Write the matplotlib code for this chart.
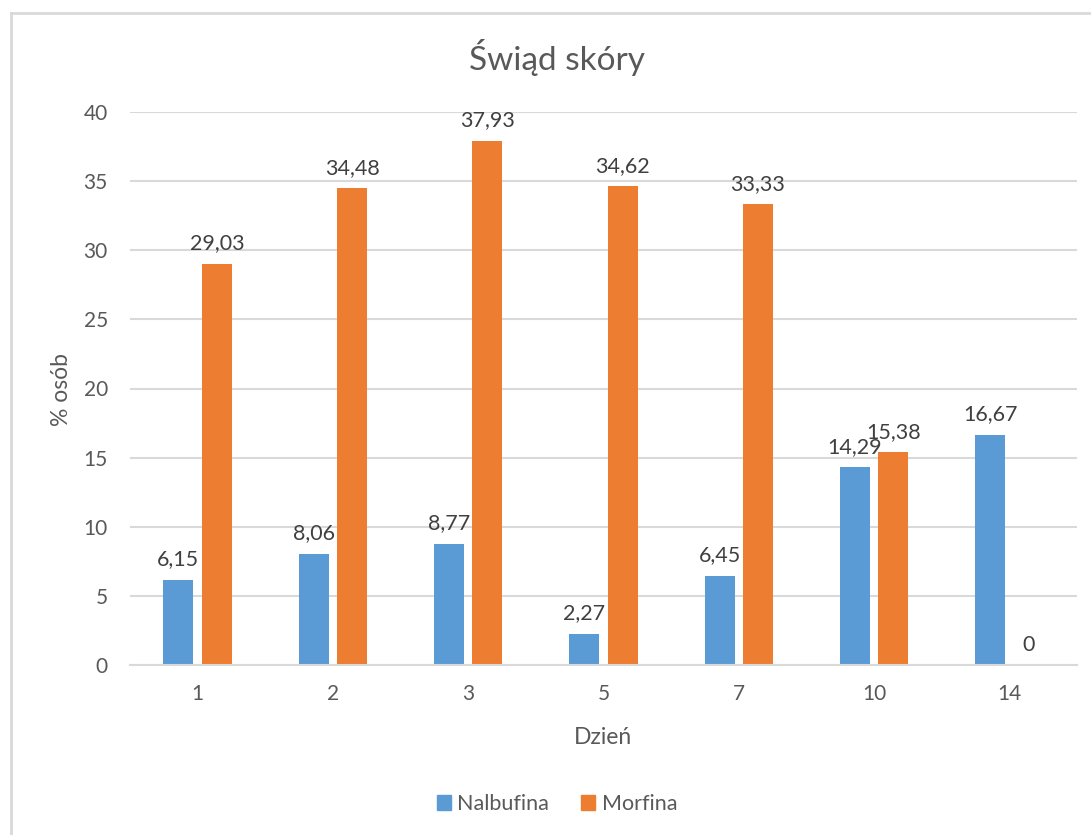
import matplotlib
matplotlib.use("Agg")
import matplotlib.pyplot as plt
from matplotlib.lines import Line2D
from matplotlib.patches import Patch
import numpy as np

days = ["1", "2", "3", "5", "7", "10", "14"]
nalbufina = [6.15, 8.06, 8.77, 2.27, 6.45, 14.29, 16.67]
morfina = [29.03, 34.48, 37.93, 34.62, 33.33, 15.38, 0]
series_names = ["Nalbufina", "Morfina"]
y_ticks = [0, 5, 10, 15, 20, 25, 30, 35, 40]

BLUE = "#5b9bd5"
ORANGE = "#ed7d31"
TEXT = "#595959"
LABEL = "#404040"
GRID = "#d9d9d9"

plt.rcParams["font.family"] = ["Lato", "DejaVu Sans"]

W, H = 1091, 835
fig = plt.figure(figsize=(W / 100, H / 100), dpi=100)
ax = fig.add_axes([130 / W, 1 - 665 / H, (1077 - 130) / W, (665 - 112) / H])

x = np.arange(len(days))
width = 0.222
offset = 0.142
b1 = ax.bar(x - offset, nalbufina, width, color=BLUE, label=series_names[0], zorder=3)
b2 = ax.bar(x + offset, morfina, width, color=ORANGE, label=series_names[1], zorder=3)

def fmt(v):
    s = f"{v:.2f}".rstrip("0").rstrip(".")
    return s.replace(".", ",")

for bars, vals in ((b1, nalbufina), (b2, morfina)):
    for rect, v in zip(bars, vals):
        ax.annotate(fmt(v), (rect.get_x() + rect.get_width() / 2, v),
                    xytext=(0, 7.5), textcoords="offset points",
                    ha="center", va="bottom", fontsize=15.5, color=LABEL, zorder=4)

ax.set_xlim(-0.5, len(days) - 0.5)
ax.set_ylim(0, 40)
ax.set_yticks(y_ticks)
ax.set_xticks(x)
ax.set_xticklabels(days)
ax.tick_params(axis="both", length=0, labelsize=15, labelcolor=TEXT)
ax.tick_params(axis="y", pad=16)
ax.tick_params(axis="x", pad=14)
ax.yaxis.grid(True, color=GRID, linewidth=1.5, zorder=0)
for side in ("left", "right", "top"):
    ax.spines[side].set_visible(False)
ax.spines["bottom"].set_color(GRID)
ax.spines["bottom"].set_linewidth(1.5)
ax.spines["bottom"].set_zorder(5)

fig.text(557 / W, 1 - 58 / H, "Świąd skóry", ha="center", va="center",
         fontsize=24, color=TEXT)
fig.text(603 / W, 1 - 738 / H, "Dzień", ha="center", va="center",
         fontsize=16.5, color=TEXT)
fig.text(61 / W, 1 - 390 / H, "% osób", ha="center", va="center",
         fontsize=16.5, color=TEXT, rotation=90)

handles = [Patch(color=BLUE), Patch(color=ORANGE)]
fig.legend(handles, series_names, loc="center", bbox_to_anchor=(557 / W, 1 - 804 / H),
           ncol=2, frameon=False, fontsize=15.5, labelcolor=TEXT,
           handlelength=0.65, handleheight=0.65, handletextpad=0.3, columnspacing=1.5)

# chart frame (left and top edges)
fig.add_artist(Line2D([10.5 / W, 10.5 / W], [0, 1 - 13 / H], color=GRID, linewidth=2,
                      transform=fig.transFigure))
fig.add_artist(Line2D([10.5 / W, 1], [1 - 13 / H, 1 - 13 / H], color=GRID, linewidth=2,
                      transform=fig.transFigure))

fig.savefig("out.png", dpi=100, facecolor="white")
